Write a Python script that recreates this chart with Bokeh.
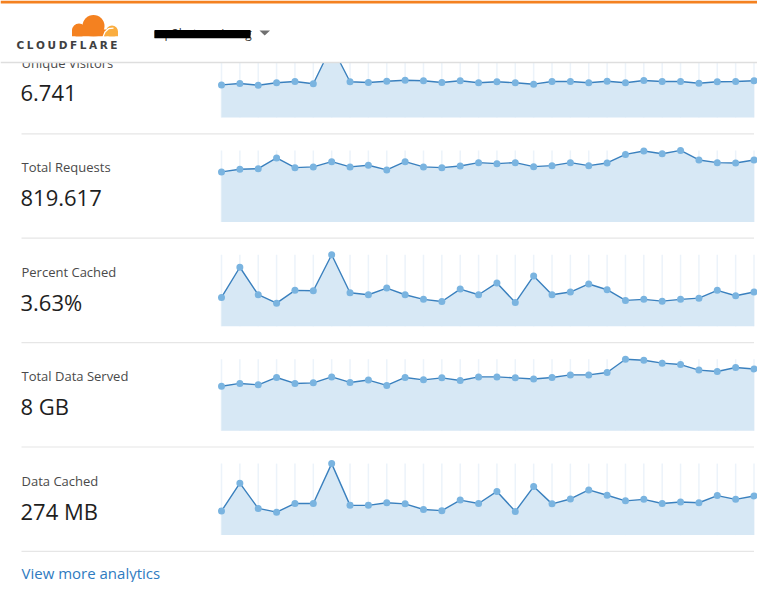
import numpy as np
from bokeh.plotting import figure
from bokeh.models import Range1d
from bokeh.embed import file_html
from bokeh.resources import INLINE
from bokeh.core.properties import value

# ---------------- data ----------------
metric_names = ["Unique Visitors", "Total Requests", "Percent Cached",
                "Total Data Served", "Data Cached"]
metric_totals = ["6.741", "819.617", "3.63%", "8 GB", "274 MB"]

unique_visitors = [228, 238, 226, 243, 252, 236, 500, 250, 245, 254,
                   261, 257, 245, 257, 243, 250, 243, 233, 252, 252,
                   243, 254, 243, 259, 252, 252, 240, 250, 252, 257]
total_requests = [23277, 24509, 24809, 29770, 25275, 25608, 28072, 25608, 26374, 24209,
                  28072, 25608, 25275, 26041, 27606, 27140, 27606, 25741, 26207, 27606,
                  26207, 27439, 31435, 33000, 31768, 33300, 28838, 27606, 27439, 28838]
percent_cached = [3.11, 6.36, 3.40, 2.49, 3.87, 3.83, 7.70, 3.61, 3.40, 4.12,
                  3.40, 2.90, 2.67, 4.01, 3.40, 4.67, 2.56, 5.42, 3.40, 3.69,
                  4.56, 3.94, 2.79, 2.90, 2.71, 2.90, 3.03, 3.87, 3.29, 3.69]
data_served_mb = [224, 238, 231, 268, 238, 241, 271, 243, 255, 228,
                  268, 256, 266, 253, 271, 271, 266, 260, 268, 281,
                  281, 293, 360, 355, 340, 333, 305, 298, 318, 311]
data_cached_mb = [6.4, 13.8, 7.1, 6.1, 8.4, 8.4, 19.0, 7.9, 7.9, 8.6,
                  8.3, 6.8, 6.5, 9.3, 8.4, 11.6, 6.3, 12.9, 8.3, 9.6,
                  12.0, 10.6, 9.1, 9.5, 8.4, 8.8, 8.6, 10.5, 9.5, 10.4]
series = [unique_visitors, total_requests, percent_cached, data_served_mb, data_cached_mb]

link_text = "View more analytics"
brand_text = "CLOUDFLARE"
domain_text = "mp3hatmusic.org"

# ---------------- style / layout ----------------
W, H = 757, 582
PITCH = 104.4
SEP0 = 28.9
X0, X1 = 221, 753.5

LINE_C = "#3a80be"
DOT_C = "#7ab4e0"
FILL_C = "#d7e8f5"
GRID_C = "#ecf3fa"
SEP_C = "#e6e6e6"
ORANGE = "#f48120"
YELLOW = "#faad3f"
MID = 0.37  # anchor offset (in em) from baseline for "middle" text alignment

p = figure(width=W, height=H, output_backend="svg", toolbar_location=None,
           x_range=Range1d(0, W), y_range=Range1d(H, 0),
           x_axis_type=None, y_axis_type=None, min_border=0,
           background_fill_color="white", border_fill_color="white")
p.outline_line_color = None


def put_text(xs, baselines, texts, size, color, font="Open Sans", style="normal"):
    ys = [b - MID * size for b in baselines]
    p.text(x=xs, y=ys, text=texts, text_font=value(font), text_font_style=style,
           text_font_size=value(f"{size}px"), text_color=color,
           text_baseline="middle", text_align="left")


# ---------------- sparklines ----------------
for i, vals in enumerate(series):
    vals = np.asarray(vals, dtype=float)
    n = len(vals)
    days = np.arange(n)
    top_px = SEP0 + 16.6 + PITCH * i
    bot_px = SEP0 + 88.1 + PITCH * i
    ppx = (X1 - X0) / (n - 1)
    vmax = vals.max()
    ppy = (bot_px - top_px) / vmax
    xn, yn = f"x{i}", f"y{i}"
    p.extra_x_ranges[xn] = Range1d(-X0 / ppx, (n - 1) + (W - X1) / ppx)
    p.extra_y_ranges[yn] = Range1d(-(H - bot_px) / ppy, vmax + top_px / ppy)
    kw = dict(x_range_name=xn, y_range_name=yn)
    p.segment(x0=days, y0=np.zeros(n), x1=days, y1=np.full(n, vmax),
              line_color=GRID_C, line_width=1.5, **kw)
    p.varea(x=days, y1=np.zeros(n), y2=vals, fill_color=FILL_C, **kw)
    p.line(days, vals, line_color=LINE_C, line_width=1.4, **kw)
    p.scatter(days, vals, size=7, fill_color=DOT_C, line_color=None, **kw)

# separators between rows
sep_y = [SEP0 + PITCH * (k + 1) for k in range(len(series))]
p.segment(x0=[21] * len(sep_y), y0=sep_y, x1=[X1] * len(sep_y), y1=sep_y,
          line_color=SEP_C, line_width=1.2)

# labels and totals
lab_y = [SEP0 + 38.4 + PITCH * k for k in range(len(series))]
val_y = [SEP0 + 71.9 + PITCH * k for k in range(len(series))]
put_text([21] * len(series), lab_y, metric_names, 13, "#4a4a4a")
put_text([20] * len(series), val_y, metric_totals, 22, "#1e1e1e")
put_text([21], [577.7], [link_text], 15, "#2f7bbf")

# ---------------- header ----------------
p.quad(left=[0], right=[W], top=[0], bottom=[62], fill_color="white", line_color=None)
p.segment(x0=[0], y0=[62], x1=[W], y1=[62], line_color="#dedede", line_width=1.5)
p.quad(left=[0], right=[W], top=[0], bottom=[3], fill_color=ORANGE, line_color=None)

# cloud logo
p.circle(x=[93], y=[25.5], radius=11, fill_color=ORANGE, line_color=None)
p.circle(x=[78.5], y=[30], radius=7, fill_color=ORANGE, line_color=None)
p.quad(left=[71.5], right=[106], top=[29], bottom=[36], fill_color=ORANGE, line_color=None)
p.circle(x=[111.5], y=[31], radius=6, fill_color=YELLOW, line_color=None)
p.quad(left=[104], right=[117.5], top=[31], bottom=[36], fill_color=YELLOW, line_color=None)
p.line(x=[102.5, 104.5, 108, 113], y=[36.5, 31.5, 28.2, 27.6], line_color="white", line_width=1.3)
p.quad(left=[60], right=[125], top=[36], bottom=[40], fill_color="white", line_color=None)

# brand letters (letter-spaced)
em = {"C": .734, "L": .637, "O": .850, "U": .812, "D": .830, "F": .683, "A": .774, "R": .770, "E": .683}
fs = 10.5
widths = np.array([em[c] * fs for c in brand_text])
gap = (101 - widths.sum()) / (len(brand_text) - 1)
lx = 16 + np.concatenate([[0], np.cumsum(widths[:-1] + gap)])
put_text(list(lx), [48.3] * len(brand_text), list(brand_text), fs, "#404041",
         font="DejaVu Sans", style="bold")

# redacted domain + dropdown caret
put_text([153], [37], [domain_text], 12, "#3a3a3a")
p.quad(left=[154], right=[250], top=[29.5], bottom=[37.7], fill_color="black", line_color=None)
p.patch(x=[259, 269.5, 264.2], y=[30, 30, 35], fill_color="#707070", line_color=None)

open("out.html", "w").write(file_html(p, INLINE))
